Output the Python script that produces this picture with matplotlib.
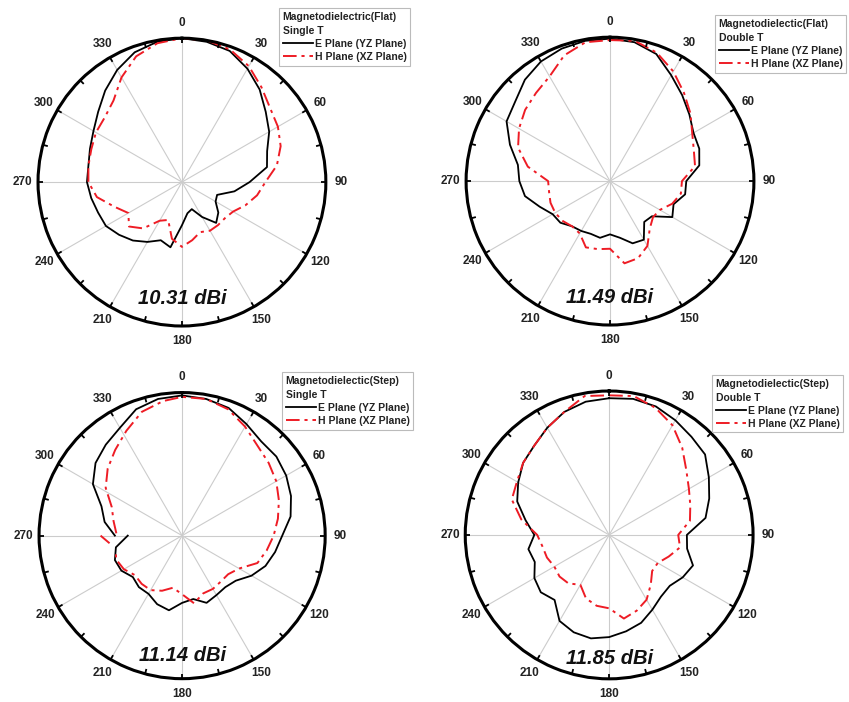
import numpy as np
import matplotlib
matplotlib.use("Agg")
import matplotlib.pyplot as plt
from matplotlib.lines import Line2D

plt.rcParams['font.family'] = ['Liberation Sans', 'DejaVu Sans']

# angles in degrees, clockwise from top
ang = list(range(0, 360, 10))

# normalised pattern radius (0 = centre, 1 = outer ring)
# panel 1: Flat, Single T
p1_e = [1.00, 0.99, 0.97, 0.91, 0.84, 0.76, 0.70, 0.63, 0.60, 0.47, 0.37, 0.26,
        0.27, 0.33, 0.37, 0.28, 0.20, 0.22, 0.30, 0.46, 0.43, 0.48, 0.53, 0.57,
        0.61, 0.62, 0.64, 0.66, 0.66, 0.68, 0.71, 0.76, 0.83, 0.90, 0.96, 0.99]
p1_h = [1.00, 1.00, 0.98, 0.93, 0.86, 0.80, 0.77, 0.73, 0.67, 0.58, 0.53, 0.47,
        0.41, 0.39, 0.39, 0.39, 0.37, 0.41, 0.45, 0.40, 0.28, 0.31, 0.42, 0.48,
        0.43, 0.50, 0.60, 0.65, 0.66, 0.67, 0.69, 0.70, 0.74, 0.84, 0.93, 0.98]

# panel 2: Flat, Double T
p2_e = [0.99, 0.98, 0.94, 0.85, 0.78, 0.72, 0.67, 0.66, 0.63, 0.53, 0.53, 0.47,
        0.50, 0.38, 0.37, 0.47, 0.46, 0.40, 0.37, 0.40, 0.39, 0.40, 0.41, 0.45,
        0.46, 0.52, 0.60, 0.63, 0.65, 0.74, 0.83, 0.86, 0.92, 0.96, 0.98, 0.99]
p2_h = [0.98, 0.99, 0.95, 0.88, 0.80, 0.73, 0.66, 0.62, 0.60, 0.50, 0.50, 0.46,
        0.40, 0.39, 0.43, 0.52, 0.57, 0.58, 0.47, 0.48, 0.49, 0.42, 0.41, 0.43,
        0.44, 0.44, 0.43, 0.43, 0.58, 0.68, 0.73, 0.77, 0.80, 0.84, 0.93, 0.98]

# panel 3: Step, Single T (curves are open at 270 deg)
p3_e_ang = list(range(270, 360, 10)) + list(range(0, 271, 10))
p3_e = [0.47, 0.55, 0.60, 0.72, 0.79, 0.83, 0.87, 0.94, 0.97,
        0.98, 0.97, 0.95, 0.90, 0.86, 0.86, 0.84, 0.81, 0.77, 0.70, 0.66, 0.62,
        0.56, 0.49, 0.47, 0.48, 0.50, 0.45, 0.47, 0.53, 0.51, 0.47, 0.47, 0.45,
        0.49, 0.50, 0.47, 0.38]
p3_h_ang = list(range(272, 360, 10)) + list(range(0, 251, 10)) + [255]
p3_h = [0.46, 0.49, 0.53, 0.63, 0.70, 0.76, 0.83, 0.91, 0.95,
        0.97, 0.97, 0.94, 0.88, 0.82, 0.79, 0.76, 0.72, 0.68, 0.64, 0.60, 0.56,
        0.46, 0.42, 0.42, 0.43, 0.43, 0.48, 0.41, 0.37, 0.41, 0.44, 0.44, 0.43,
        0.47, 0.49, 0.48]
p3_h_dash_ang = [264, 270]
p3_h_dash = [0.51, 0.57]

# panel 4: Step, Double T
p4_e = [0.95, 0.96, 0.95, 0.92, 0.89, 0.87, 0.80, 0.74, 0.68, 0.54, 0.55, 0.62,
        0.59, 0.55, 0.56, 0.60, 0.65, 0.68, 0.71, 0.73, 0.72, 0.69, 0.59, 0.62,
        0.60, 0.55, 0.57, 0.52, 0.59, 0.68, 0.73, 0.78, 0.81, 0.86, 0.91, 0.94]
p4_h = [0.97, 0.98, 0.94, 0.88, 0.79, 0.70, 0.64, 0.60, 0.57, 0.48, 0.50, 0.44,
        0.39, 0.39, 0.45, 0.52, 0.56, 0.59, 0.51, 0.50, 0.47, 0.40, 0.44, 0.45,
        0.44, 0.46, 0.47, 0.50, 0.62, 0.72, 0.74, 0.78, 0.81, 0.86, 0.91, 0.98]

titles = ["Magnetodielectric(Flat)\nSingle T", "Magnetodielectic(Flat)\nDouble T",
          "Magnetodielectic(Step)\nSingle T", "Magnetodielectic(Step)\nDouble T"]
gains = ["10.31 dBi", "11.49 dBi", "11.14 dBi", "11.85 dBi"]

red = '#ee1c25'
dashdot = (0, (7, 2.5, 1.6, 2.5))


def closed(a, r):
    return np.radians(a + [360]), r + [r[0]]


curves = [
    [(closed(ang, p1_e), 'e'), (closed(ang, p1_h), 'h')],
    [(closed(ang, p2_e), 'e'), (closed(ang, p2_h), 'h')],
    [((np.radians(p3_e_ang), p3_e), 'e'), ((np.radians(p3_h_ang), p3_h), 'h'),
     ((np.radians(p3_h_dash_ang), p3_h_dash), 'h')],
    [(closed(ang, p4_e), 'e'), (closed(ang, p4_h), 'h')],
]

# axes boxes in figure fraction [left, bottom, width, height]
boxes = [[0.0448, 0.5356, 0.339, 0.410],
         [0.5490, 0.5370, 0.339, 0.410],
         [0.0460, 0.0330, 0.337, 0.408],
         [0.5480, 0.0330, 0.339, 0.410]]
leg_pos = [(0.3286, 0.9886), (0.8420, 0.9786), (0.3320, 0.4700), (0.8386, 0.4660)]
gain_y = [0.095, 0.095, 0.08, 0.07]

fig = plt.figure(figsize=(8.49, 7.02), dpi=100)

for i in range(4):
    ax = fig.add_axes(boxes[i], projection='polar')
    ax.set_theta_zero_location('N')
    ax.set_theta_direction(-1)
    for (th, r), kind in curves[i]:
        if kind == 'e':
            ax.plot(th, r, color='black', lw=1.3)
        else:
            ax.plot(th, r, color=red, lw=1.4, ls=dashdot)
    # small inward tick marks on the outer ring every 15 deg
    for a in np.radians(np.arange(0, 360, 15)):
        ax.plot([a, a], [0.965, 1.0], color='black', lw=1.3,
                solid_capstyle='butt')
    ax.set_ylim(0, 1)
    ax.set_yticks([])
    ax.set_xticks(np.radians(np.arange(0, 360, 30)))
    ax.set_xticklabels([str(a) for a in range(0, 360, 30)],
                       fontsize=8.5, fontweight='bold', color='#222222')
    ax.tick_params(axis='x', length=0, pad=4)
    ax.xaxis.grid(True, color='#cccccc', lw=0.8)
    ax.spines['polar'].set_linewidth(2.2)
    ax.text(0.5, gain_y[i], gains[i], transform=ax.transAxes, ha='center',
            va='center', fontsize=14.5, fontweight='bold', style='italic',
            color='#111111')

    handles = [Line2D([], [], color='black', lw=1.3),
               Line2D([], [], color=red, lw=1.4, ls=dashdot)]
    leg = fig.legend(handles, ["E Plane (YZ Plane)", "H Plane (XZ Plane)"],
                     loc='upper left', bbox_to_anchor=leg_pos[i],
                     title=titles[i], alignment='left',
                     prop={'weight': 'bold', 'size': 7.5},
                     title_fontproperties={'weight': 'bold', 'size': 7.5},
                     handlelength=2.9, handletextpad=0.2, labelspacing=0.3,
                     borderpad=0.35, borderaxespad=0, fancybox=False,
                     frameon=True, edgecolor='#bbbbbb', framealpha=1)
    leg.get_frame().set_linewidth(0.8)
    leg.get_title().set_linespacing(1.5)
    for t in leg.get_texts():
        t.set_color('#222222')
    leg.get_title().set_color('#222222')

fig.savefig("out.png", dpi=100, facecolor='white')
